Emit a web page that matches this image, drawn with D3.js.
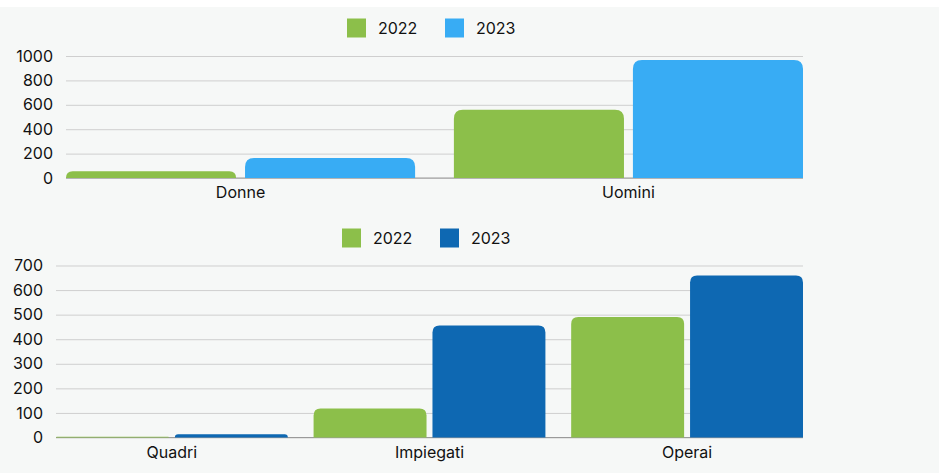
<!DOCTYPE html>
<html><head><meta charset="utf-8">
<script src="https://cdn.jsdelivr.net/npm/d3@7"></script>
<style>
html,body{margin:0;padding:0;background:#fff;}
svg{display:block;}
svg text{font-family:Inter, "Open Sans", sans-serif;}
</style></head>
<body><svg id="c" width="939" height="473"></svg>
<script>
const seriesNames = ["2022", "2023"];
const genderCats = ["Donne", "Uomini"];
const gender2022 = [55, 560];
const gender2023 = [164, 967];
const genderTicks = [0, 200, 400, 600, 800, 1000];

const roleCats = ["Quadri", "Impiegati", "Operai"];
const role2022 = [3, 118, 490];
const role2023 = [13, 456, 659];
const roleTicks = [0, 100, 200, 300, 400, 500, 600, 700];

const green = "#8cbf4a", lightBlue = "#38acf4", darkBlue = "#0e68b2";
const FONT = "Inter, 'Open Sans', sans-serif";
const FS = 16;

const svg = d3.select("#c");
svg.append("rect").attr("x",0).attr("y",7).attr("width",939).attr("height",466).attr("fill","#f6f8f7");

function topRounded(x, y, w, h, r) {
  r = Math.min(r, h, w/2);
  const p = d3.path();
  p.moveTo(x, y + h);
  p.lineTo(x, y + r);
  p.quadraticCurveTo(x, y, x + r, y);
  p.lineTo(x + w - r, y);
  p.quadraticCurveTo(x + w, y, x + w, y + r);
  p.lineTo(x + w, y + h);
  p.closePath();
  return p.toString();
}

function drawChart(cfg) {
  const g = svg.append("g");
  const x0 = d3.scaleBand().domain(cfg.cats).range([cfg.left, cfg.right]).paddingInner(0.1).paddingOuter(0);
  const x1 = d3.scaleBand().domain(seriesNames).range([0, x0.bandwidth()]).paddingInner(0.05).paddingOuter(0);
  const y = d3.scaleLinear().domain([0, cfg.max]).range([cfg.bottom, cfg.top]);

  const yAxis = d3.axisLeft(y).tickValues(cfg.ticks).tickSize(-(cfg.right - cfg.left)).tickPadding(cfg.tickPad).tickFormat(d3.format("d"));
  const ya = g.append("g").attr("transform", `translate(${cfg.left},0)`).call(yAxis)
    .attr("font-family", FONT).attr("font-size", FS);
  ya.select(".domain").remove();
  ya.selectAll(".tick line").attr("stroke", "#cfcfcf").attr("stroke-width", 1);
  ya.selectAll(".tick text").attr("fill", "#111");

  g.append("line").attr("x1", cfg.left).attr("x2", cfg.right).attr("y1", y(0)).attr("y2", y(0)).attr("stroke", "#9a9a9a").attr("stroke-width", 1.2);

  const data = cfg.cats.map((c, i) => ({cat: c, vals: [cfg.s1[i], cfg.s2[i]]}));
  const colors = [green, cfg.color2];
  data.forEach(d => {
    d.vals.forEach((v, j) => {
      const bx = x0(d.cat) + x1(seriesNames[j]);
      const by = y(v);
      g.append("path").attr("d", topRounded(bx, by, x1.bandwidth(), y(0) - by, cfg.radius)).attr("fill", colors[j]);
    });
  });

  const xa = g.append("g").attr("transform", `translate(0,${cfg.bottom})`).call(d3.axisBottom(x0).tickSize(0).tickPadding(cfg.xPad))
    .attr("font-family", FONT).attr("font-size", FS);
  xa.select(".domain").remove();
  xa.selectAll(".tick text").attr("fill", "#111");

  seriesNames.forEach((s, j) => {
    const lx = cfg.legendX[j];
    g.append("rect").attr("x", lx).attr("y", cfg.legendY - 9.5).attr("width", 19).attr("height", 19).attr("fill", colors[j]);
    g.append("text").attr("x", lx + 31).attr("y", cfg.legendY).attr("dy", "0.35em").attr("font-size", FS).attr("fill", "#111").text(s);
  });
}

drawChart({cats: genderCats, s1: gender2022, s2: gender2023, ticks: genderTicks, max: 1000,
  left: 66, right: 803, top: 56, bottom: 178, color2: lightBlue, radius: 9, tickPad: 13, xPad: 9,
  legendX: [347, 445], legendY: 28});

drawChart({cats: roleCats, s1: role2022, s2: role2023, ticks: roleTicks, max: 700,
  left: 56, right: 803, top: 265.5, bottom: 437.5, color2: darkBlue, radius: 7, tickPad: 13, xPad: 9,
  legendX: [342, 440], legendY: 238});
</script></body></html>
